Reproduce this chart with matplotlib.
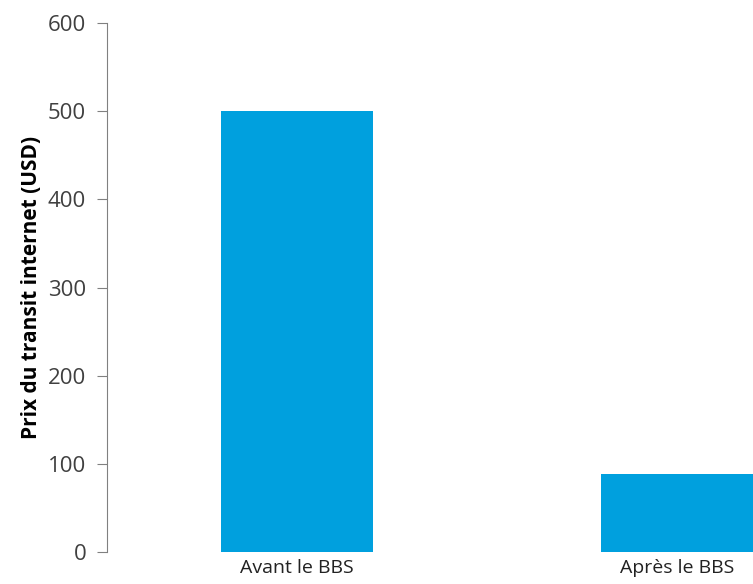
import matplotlib
matplotlib.use('Agg')
import matplotlib.pyplot as plt

# Données
categories = ['Avant le BBS', 'Après le BBS']
prix = [500, 88]
yticks = [0, 100, 200, 300, 400, 500, 600]

plt.rcParams['font.family'] = ['Open Sans', 'DejaVu Sans']

fig = plt.figure(figsize=(7.53, 5.84), dpi=100)
W, H = 753, 584
# axe qui dépasse à droite (image coupée)
ax = fig.add_axes([107 / W, 32 / H, 760 / W, 529 / H])

ax.bar(range(len(categories)), prix, width=0.4, color='#00A0DE')
ax.set_xlim(-0.5, 1.5)
ax.set_ylim(0, 600)
ax.set_yticks(yticks)
ax.set_xticks(range(len(categories)))
ax.set_xticklabels(categories, fontsize=14, color='#222222')

for s in ['top', 'right', 'bottom']:
    ax.spines[s].set_visible(False)
ax.spines['left'].set_color('#808080')
ax.tick_params(axis='y', length=7, color='#808080', labelsize=16,
               labelcolor='#404040', pad=8)
ax.tick_params(axis='x', length=0, pad=5)

ax.set_ylabel('Prix du transit internet (USD)', fontsize=15, fontweight='bold',
              color='black', labelpad=4)

fig.savefig('out.png', dpi=100)
